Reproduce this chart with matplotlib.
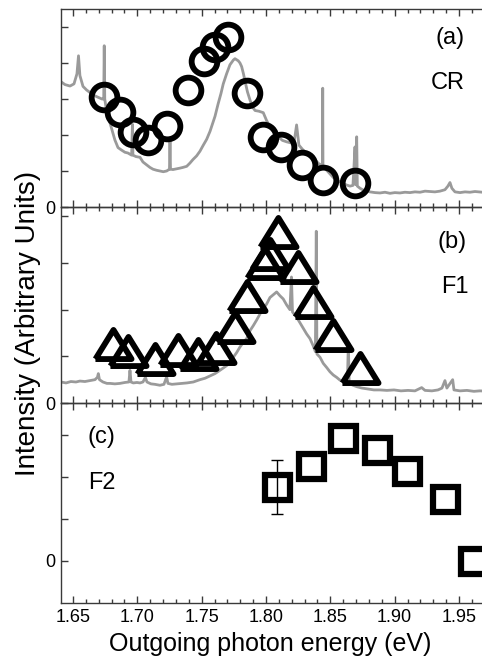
import matplotlib
matplotlib.use("Agg")
import matplotlib.pyplot as plt
from matplotlib.ticker import MultipleLocator, FixedLocator, FixedFormatter
from matplotlib.markers import MarkerStyle

plt.rcParams['font.family'] = ['Liberation Sans', 'DejaVu Sans']

# ---------------- data ----------------
# Panel (a): CR
cr_energy = [1.6743, 1.6865, 1.6969, 1.7085, 1.7228, 1.7396, 1.7518, 1.7604,
             1.7702, 1.7850, 1.7979, 1.8117, 1.8277, 1.8445, 1.8692]
cr_value = [3.06, 2.65, 2.09, 1.86, 2.26, 3.25, 4.06, 4.45,
            4.73, 3.18, 1.95, 1.68, 1.17, 0.75, 0.66]

spec_a_energy = [1.6407, 1.6438, 1.6477, 1.6508, 1.6531, 1.6543, 1.6554, 1.6578,
                 1.6606, 1.6632, 1.6663, 1.6694, 1.6725, 1.6739, 1.6743, 1.6747,
                 1.6764, 1.6788, 1.6811, 1.6826, 1.6850, 1.6878, 1.6904, 1.6927,
                 1.6956, 1.6962, 1.6966, 1.6990, 1.7021, 1.7044, 1.7073, 1.7098,
                 1.7122, 1.7150, 1.7176, 1.7202, 1.7228, 1.7250, 1.7254, 1.7258,
                 1.7277, 1.7306, 1.7332, 1.7355, 1.7384, 1.7409, 1.7433, 1.7461,
                 1.7487, 1.7510, 1.7539, 1.7565, 1.7588, 1.7604, 1.7627, 1.7650,
                 1.7668, 1.7694, 1.7720, 1.7746, 1.7759, 1.7785, 1.7798, 1.7811,
                 1.7825, 1.7837, 1.7856, 1.7876, 1.7895, 1.7915, 1.7946, 1.7979,
                 1.8005, 1.8031, 1.8062, 1.8096, 1.8128, 1.8161, 1.8194, 1.8217,
                 1.8238, 1.8256, 1.8284, 1.8316, 1.8342, 1.8368, 1.8394, 1.8412,
                 1.8439, 1.8441, 1.8443, 1.8472, 1.8497, 1.8523, 1.8549, 1.8575,
                 1.8601, 1.8627, 1.8653, 1.8676, 1.8692, 1.8697, 1.8705, 1.8710,
                 1.8731, 1.8756, 1.8782, 1.8808, 1.8847, 1.8886, 1.8925, 1.8964,
                 1.9002, 1.9041, 1.9080, 1.9119, 1.9158, 1.9197, 1.9236, 1.9275,
                 1.9313, 1.9352, 1.9391, 1.9414, 1.9430, 1.9445, 1.9469, 1.9508,
                 1.9547, 1.9585, 1.9624, 1.9679, 1.9740]
spec_a_value = [3.48, 3.40, 3.36, 3.42, 3.70, 4.20, 3.65, 3.35,
                3.25, 3.18, 3.10, 3.05, 3.00, 3.00, 4.48, 3.00,
                2.60, 2.33, 2.05, 1.86, 1.65, 1.58, 1.52, 1.50,
                1.44, 2.30, 1.44, 1.40, 1.38, 1.25, 1.17, 1.10,
                1.05, 1.02, 1.00, 0.98, 1.00, 1.05, 1.86, 1.05,
                1.04, 1.06, 1.08, 1.10, 1.13, 1.22, 1.32, 1.42,
                1.55, 1.70, 1.88, 2.10, 2.35, 2.52, 2.85, 3.15,
                3.42, 3.70, 3.95, 4.08, 4.12, 4.06, 4.00, 3.90,
                3.70, 3.50, 3.20, 2.97, 2.78, 2.68, 2.66, 2.62,
                2.40, 2.23, 2.08, 1.95, 1.85, 1.81, 1.78, 1.76,
                2.28, 1.72, 1.60, 1.49, 1.40, 1.30, 1.26, 1.20,
                1.15, 3.30, 1.12, 1.02, 0.92, 0.82, 0.75, 0.70,
                0.65, 0.61, 0.58, 0.60, 1.67, 0.62, 1.95, 0.58,
                0.52, 0.47, 0.44, 0.42, 0.40, 0.39, 0.41, 0.38,
                0.40, 0.39, 0.41, 0.40, 0.42, 0.41, 0.44, 0.43,
                0.42, 0.44, 0.48, 0.58, 0.68, 0.52, 0.42, 0.40,
                0.42, 0.41, 0.43, 0.41, 0.40]

# Panel (b): F1
f1_energy = [1.6813, 1.6925, 1.7137, 1.7318, 1.7469, 1.7611, 1.7759, 1.7855,
             1.7992, 1.8031, 1.8096, 1.8246, 1.8368, 1.8523, 1.8731]
f1_value = [1.26, 1.11, 0.95, 1.13, 1.06, 1.18, 1.62, 2.30,
            3.01, 3.20, 3.66, 2.92, 2.16, 1.45, 0.76]

spec_b_energy = [1.6407, 1.6446, 1.6484, 1.6523, 1.6554, 1.6593, 1.6632, 1.6671,
                 1.6690, 1.6697, 1.6706, 1.6733, 1.6764, 1.6788, 1.6826, 1.6865,
                 1.6904, 1.6935, 1.6943, 1.6951, 1.6969, 1.6997, 1.7021, 1.7044,
                 1.7063, 1.7075, 1.7106, 1.7137, 1.7176, 1.7207, 1.7228, 1.7238,
                 1.7269, 1.7308, 1.7347, 1.7386, 1.7435, 1.7487, 1.7526, 1.7565,
                 1.7604, 1.7642, 1.7694, 1.7720, 1.7746, 1.7772, 1.7798, 1.7824,
                 1.7850, 1.7876, 1.7902, 1.7928, 1.7954, 1.7979, 1.8005, 1.8031,
                 1.8057, 1.8083, 1.8108, 1.8134, 1.8161, 1.8186, 1.8198, 1.8206,
                 1.8238, 1.8264, 1.8290, 1.8316, 1.8342, 1.8368, 1.8384, 1.8391,
                 1.8396, 1.8420, 1.8445, 1.8472, 1.8497, 1.8523, 1.8549, 1.8575,
                 1.8606, 1.8633, 1.8640, 1.8647, 1.8676, 1.8705, 1.8746, 1.8793,
                 1.8839, 1.8886, 1.8940, 1.8995, 1.9049, 1.9104, 1.9158, 1.9210,
                 1.9236, 1.9290, 1.9337, 1.9368, 1.9391, 1.9406, 1.9451, 1.9461,
                 1.9508, 1.9562, 1.9616, 1.9663, 1.9740]
spec_b_value = [0.45, 0.43, 0.46, 0.45, 0.47, 0.46, 0.48, 0.50,
                0.55, 0.63, 0.50, 0.45, 0.42, 0.42, 0.41, 0.42,
                0.44, 0.45, 0.70, 0.45, 0.43, 0.44, 0.43, 0.45,
                0.55, 0.45, 0.41, 0.40, 0.38, 0.40, 0.56, 0.42,
                0.40, 0.41, 0.42, 0.43, 0.45, 0.50, 0.53, 0.58,
                0.63, 0.70, 0.80, 0.86, 0.98, 1.08, 1.20, 1.30,
                1.38, 1.55, 1.66, 1.78, 1.91, 2.02, 2.12, 2.26,
                2.32, 2.38, 2.30, 2.23, 2.10, 2.00, 2.70, 1.95,
                1.84, 1.72, 1.60, 1.48, 1.38, 1.22, 1.10, 3.68,
                1.05, 0.98, 0.85, 0.76, 0.67, 0.60, 0.55, 0.49,
                0.45, 0.45, 1.27, 0.42, 0.38, 0.35, 0.32, 0.30,
                0.28, 0.28, 0.27, 0.28, 0.26, 0.27, 0.26, 0.33,
                0.27, 0.26, 0.28, 0.32, 0.48, 0.32, 0.50, 0.28,
                0.26, 0.27, 0.25, 0.26, 0.25]

# Panel (c): F2
f2_energy = [1.8088, 1.8350, 1.8601, 1.8860, 1.9093, 1.9391, 1.9611]
f2_value = [1.76, 2.27, 2.92, 2.64, 2.15, 1.47, 0.00]
f2_err_energy = [1.8088]
f2_err_value = [1.76]
f2_err = [0.64]

panel_labels = ['(a)', '(b)', '(c)']
panel_names = ['CR', 'F1', 'F2']
x_ticks = [1.65, 1.70, 1.75, 1.80, 1.85, 1.90, 1.95]
x_ticklabels = ['1.65', '1.70', '1.75', '1.80', '1.85', '1.90', '1.95']
a_yticks = [0, 1, 2, 3, 4, 5]
b_yticks = [0, 1, 2, 3, 4]
c_yticks = [0, 1, 2, 3]

# ---------------- figure ----------------
W, H = 482, 660
fig = plt.figure(figsize=(W / 100, H / 100), dpi=100)

xlim = (1.6407, 1.99)
left = 61 / W
width = (xlim[1] - xlim[0]) * 1286.7 / W


def panel(top_px, bot_px):
    return fig.add_axes([left, 1 - bot_px / H, width, (bot_px - top_px) / H])


ax_a = panel(9, 207)
ax_b = panel(207, 403)
ax_c = panel(403, 603)

spine_col = '#3a3a3a'
gray = '#9a9a9a'

for ax, yt, ylim in [(ax_a, a_yticks, (0, 5.5)),
                     (ax_b, b_yticks, (0, 4.2)),
                     (ax_c, c_yticks, (-1, 3.76))]:
    ax.set_xlim(*xlim)
    ax.set_ylim(*ylim)
    ax.xaxis.set_major_locator(FixedLocator(x_ticks))
    ax.xaxis.set_minor_locator(MultipleLocator(0.01))
    ax.yaxis.set_major_locator(FixedLocator(yt))
    ax.yaxis.set_major_formatter(FixedFormatter(['0'] + [''] * (len(yt) - 1)))
    ax.tick_params(axis='both', which='both', direction='in', top=True,
                   right=False, color=spine_col, width=1)
    ax.tick_params(axis='both', which='major', length=5, labelsize=13, pad=4)
    ax.tick_params(axis='x', which='minor', length=3)
    for s in ax.spines.values():
        s.set_color(spine_col)
        s.set_linewidth(1.0)
    ax.patch.set_alpha(0)

ax_a.tick_params(axis='x', labelbottom=False)
ax_b.tick_params(axis='x', labelbottom=False)
ax_c.xaxis.set_major_formatter(FixedFormatter(x_ticklabels))

# spectra
ax_a.plot(spec_a_energy, spec_a_value, color=gray, lw=2.0, zorder=1)
ax_b.plot(spec_b_energy, spec_b_value, color=gray, lw=2.0, zorder=1)

# markers
ax_a.plot(cr_energy, cr_value, ls='none', marker='o', ms=18.5, mfc='none',
          mec='black', mew=4.2, zorder=3)

tri = MarkerStyle([(-0.62, -0.5), (0.62, -0.5), (0.0, 0.5), (-0.62, -0.5)],
                  joinstyle='miter')
ax_b.plot(f1_energy, f1_value, ls='none', marker=tri, ms=26, mfc='none',
          mec='black', mew=4.2, zorder=3)

ax_c.errorbar(f2_err_energy, f2_err_value, yerr=f2_err, fmt='none',
              ecolor='black', elinewidth=1.0, capsize=4, capthick=1.0, zorder=2)
ax_c.plot(f2_energy, f2_value, ls='none', marker='s', ms=18, mfc='none',
          mec='black', mew=4.5, zorder=3)

# panel labels
fs_lab = 17
ax_a.text(0.866, 0.856, panel_labels[0], transform=ax_a.transAxes,
          ha='center', va='center', fontsize=fs_lab)
ax_a.text(0.860, 0.624, panel_names[0], transform=ax_a.transAxes,
          ha='center', va='center', fontsize=fs_lab)
ax_b.text(0.870, 0.821, panel_labels[1], transform=ax_b.transAxes,
          ha='center', va='center', fontsize=fs_lab)
ax_b.text(0.877, 0.592, panel_names[1], transform=ax_b.transAxes,
          ha='center', va='center', fontsize=fs_lab)
ax_c.text(0.089, 0.83, panel_labels[2], transform=ax_c.transAxes,
          ha='center', va='center', fontsize=fs_lab)
ax_c.text(0.091, 0.60, panel_names[2], transform=ax_c.transAxes,
          ha='center', va='center', fontsize=fs_lab)

# axis labels
fig.text(270 / W, 1 - 644 / H, 'Outgoing photon energy (eV)', ha='center',
         va='center', fontsize=18)
fig.text(28 / W, 1 - 323 / H, 'Intensity (Arbitrary Units)', ha='center',
         va='center', rotation=90, fontsize=20)

fig.savefig('out.png', dpi=100)
